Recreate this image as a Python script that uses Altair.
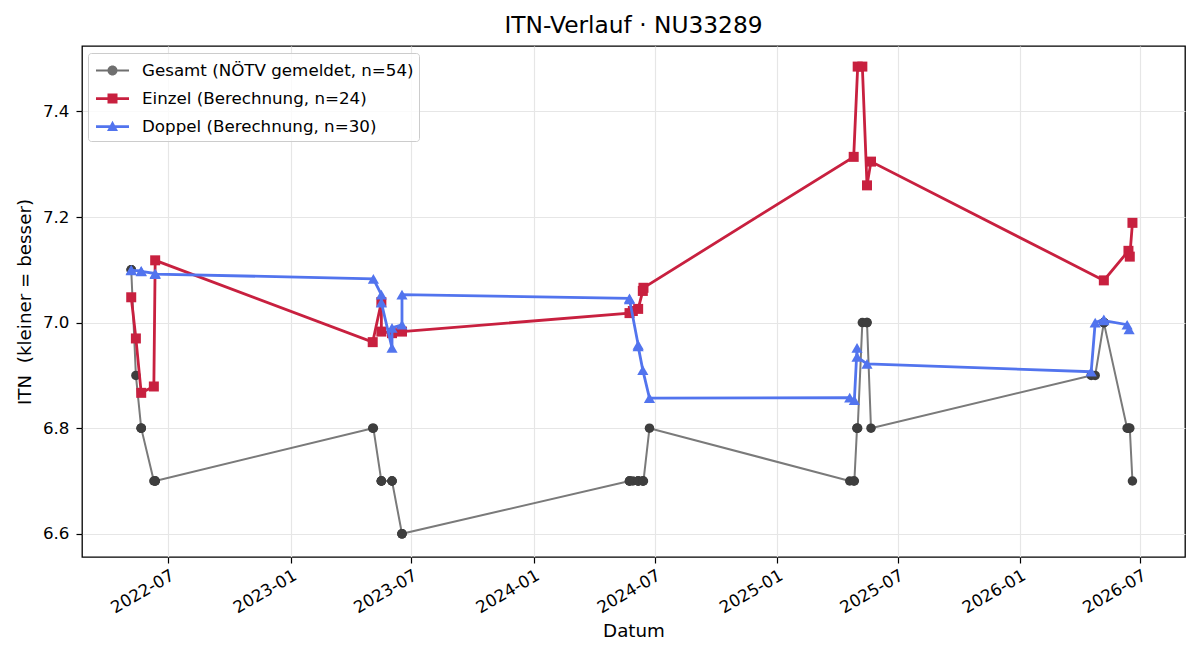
import altair as alt
import pandas as pd

# Series labels (legend order = drawing order)
serien = [
    "Gesamt (NÖTV gemeldet, n=54)",
    "Einzel (Berechnung, n=24)",
    "Doppel (Berechnung, n=30)",
]
farben = ["#6f6f6f", "#c8203f", "#5274ee"]

# Einzel: computed ITN per singles match
einzel_datum = [
    "2022-05-06", "2022-05-13", "2022-05-21", "2022-06-09", "2022-06-11",
    "2023-05-04", "2023-05-17", "2023-05-17", "2023-06-02", "2023-06-17",
    "2024-05-24", "2024-05-29", "2024-06-06", "2024-06-13", "2024-06-14",
    "2025-04-26", "2025-05-02", "2025-05-09", "2025-05-16", "2025-05-22",
    "2026-05-07", "2026-06-13", "2026-06-15", "2026-06-19",
]
einzel_itn = [
    7.048, 6.970, 6.867, 6.879, 7.118,
    6.963, 7.039, 6.983, 6.980, 6.983,
    7.018, 7.022, 7.026, 7.060, 7.066,
    7.314, 7.485, 7.485, 7.260, 7.305,
    7.080, 7.136, 7.125, 7.189,
]

# Doppel: computed ITN per doubles match
doppel_datum = [
    "2022-05-06", "2022-05-06", "2022-05-21", "2022-05-21", "2022-06-11", "2022-06-11",
    "2023-05-05", "2023-05-17", "2023-05-17", "2023-06-02", "2023-06-02", "2023-06-17", "2023-06-17",
    "2024-05-24", "2024-05-24", "2024-06-06", "2024-06-06", "2024-06-13", "2024-06-23",
    "2025-04-20", "2025-04-27", "2025-05-01", "2025-05-01", "2025-05-16",
    "2026-04-18", "2026-04-24", "2026-05-07", "2026-05-07", "2026-06-11", "2026-06-14",
]
doppel_itn = [
    7.100, 7.099, 7.098, 7.097, 7.093, 7.092,
    7.083, 7.053, 7.038, 6.952, 6.990, 6.996, 7.053,
    7.046, 7.044, 6.958, 6.955, 6.910, 6.857,
    6.858, 6.853, 6.952, 6.935, 6.922,
    6.907, 7.000, 7.006, 7.004, 6.996, 6.987,
]

# Gesamt: officially reported ITN at every match date
gesamt_datum = [
    "2022-05-06", "2022-05-06", "2022-05-06", "2022-05-13",
    "2022-05-21", "2022-05-21", "2022-05-21", "2022-06-09",
    "2022-06-11", "2022-06-11", "2022-06-11",
    "2023-05-04", "2023-05-05", "2023-05-17", "2023-05-17", "2023-05-17", "2023-05-17",
    "2023-06-02", "2023-06-02", "2023-06-02", "2023-06-17", "2023-06-17", "2023-06-17",
    "2024-05-24", "2024-05-24", "2024-05-24", "2024-05-29",
    "2024-06-06", "2024-06-06", "2024-06-06", "2024-06-13", "2024-06-13",
    "2024-06-14", "2024-06-23",
    "2025-04-20", "2025-04-26", "2025-04-27", "2025-05-01", "2025-05-01",
    "2025-05-02", "2025-05-09", "2025-05-16", "2025-05-16", "2025-05-22",
    "2026-04-18", "2026-04-24", "2026-05-07", "2026-05-07", "2026-05-07",
    "2026-06-11", "2026-06-13", "2026-06-14", "2026-06-15", "2026-06-19",
]
gesamt_itn = [
    7.1, 7.1, 7.1, 6.9,
    6.8, 6.8, 6.8, 6.7,
    6.7, 6.7, 6.7,
    6.8, 6.8, 6.7, 6.7, 6.7, 6.7,
    6.7, 6.7, 6.7, 6.6, 6.6, 6.6,
    6.7, 6.7, 6.7, 6.7,
    6.7, 6.7, 6.7, 6.7, 6.7,
    6.7, 6.8,
    6.7, 6.7, 6.7, 6.8, 6.8,
    6.8, 7.0, 7.0, 7.0, 6.8,
    6.9, 6.9, 7.0, 7.0, 7.0,
    6.8, 6.8, 6.8, 6.8, 6.7,
]

y_ticks = [6.6, 6.8, 7.0, 7.2, 7.4]
x_ticks = [(2022, 7), (2023, 1), (2023, 7), (2024, 1), (2024, 7),
           (2025, 1), (2025, 7), (2026, 1), (2026, 7)]


def tabelle(name, datum, itn):
    return pd.DataFrame({
        "serie": name,
        "datum": [d + "T00:00:00" for d in datum],
        "itn": itn,
        "k": list(range(len(itn))),
    })


df = pd.concat([
    tabelle(serien[0], gesamt_datum, gesamt_itn),
    tabelle(serien[1], einzel_datum, einzel_itn),
    tabelle(serien[2], doppel_datum, doppel_itn),
], ignore_index=True)

FONT = "DejaVu Sans"
TICK_FS = 16.7
TITLE_FS = 18.3

x_enc = alt.X(
    "datum:T",
    title="Datum",
    scale=alt.Scale(domain=[alt.DateTime(year=2022, month=2, date=21),
                            alt.DateTime(year=2026, month=9, date=6)]),
    axis=alt.Axis(
        values=[alt.DateTime(year=y, month=m, date=1) for y, m in x_ticks],
        format="%Y-%m", labelAngle=-30, labelAlign="right", labelBaseline="top",
        labelPadding=4, tickSize=6, tickColor="black", tickWidth=1.2,
        domain=False, grid=True, gridColor="#e6e6e6", gridWidth=1.2,
        labelFontSize=TICK_FS, labelFont=FONT, labelColor="black",
        titleFontSize=TITLE_FS, titleFont=FONT, titleFontWeight="normal",
        titleColor="black", titlePadding=6,
    ),
)
y_enc = alt.Y(
    "itn:Q",
    title="ITN\u00a0 (kleiner = besser)",
    scale=alt.Scale(domain=[6.556, 7.524], nice=False, zero=False),
    axis=alt.Axis(
        values=y_ticks, format=".1f", tickSize=6, tickColor="black", tickWidth=1.2,
        domain=False, grid=True, gridColor="#e6e6e6", gridWidth=1.2,
        labelFontSize=TICK_FS, labelFont=FONT, labelColor="black", labelPadding=7,
        titleFontSize=TITLE_FS, titleFont=FONT, titleFontWeight="normal",
        titleColor="black", titlePadding=8,
    ),
)

base = alt.Chart(df)

stil = {
    serien[0]: dict(line="#7a7a7a", lw=2.0, pt="#3e3e3e", shape="circle", size=90),
    serien[1]: dict(line="#c8203f", lw=2.8, pt="#c8203f", shape="square", size=100),
    serien[2]: dict(line="#5274ee", lw=2.8, pt="#5274ee", shape="triangle-up", size=125),
}

layers = []
for name in serien:
    s = stil[name]
    sub = base.transform_filter(alt.datum.serie == name)
    layers.append(
        sub.mark_line(color=s["line"], strokeWidth=s["lw"]).encode(
            x=x_enc, y=y_enc, order=alt.Order("k:Q"))
    )
    layers.append(
        sub.mark_point(filled=True, color=s["pt"], shape=s["shape"],
                       size=s["size"], opacity=1).encode(x=x_enc, y=y_enc)
    )

# Legend glyphs: a short line with the series marker in its middle
legend_paths = [
    "M-0.76,-0.08H1.88V0.08H-0.76Z M0.96,0A0.4,0.4 0 1,1 0.16,0A0.4,0.4 0 1,1 0.96,0Z",
    "M-0.76,-0.11H1.88V0.11H-0.76Z M0.16,-0.4H0.96V0.4H0.16Z",
    "M-0.76,-0.11H1.88V0.11H-0.76Z M0.56,-0.46L1.0,0.36L0.12,0.36Z",
]
legend_layer = base.transform_filter(alt.datum.itn > 100).mark_point(
    filled=True, opacity=1
).encode(
    x=x_enc, y=y_enc,
    color=alt.Color("serie:N", scale=alt.Scale(domain=serien, range=farben),
                    legend=alt.Legend(title=None, orient="none", legendX=6, legendY=7)),
    shape=alt.Shape("serie:N", scale=alt.Scale(domain=serien, range=legend_paths)),
)
layers.append(legend_layer)

chart = alt.layer(*layers).properties(
    width=1103,
    height=511,
    background="white",
    title=alt.TitleParams("ITN-Verlauf · NU33289", fontSize=23.3, font=FONT,
                          fontWeight="normal", color="black", offset=8,
                          anchor="middle"),
    autosize=alt.AutoSizeParams(type="none"),
    padding={"left": 82, "top": 46, "right": 15, "bottom": 103},
).configure_view(
    stroke="black", strokeWidth=1.3
).configure_legend(
    symbolSize=625, symbolStrokeWidth=0, labelFont=FONT, labelFontSize=TICK_FS,
    labelColor="black", labelOffset=24, labelLimit=400, padding=5, rowPadding=6,
    fillColor="rgba(255,255,255,0.8)", strokeColor="#cccccc", cornerRadius=3,
)

chart.save("out.html", embed_options={"renderer": "svg", "actions": False})
